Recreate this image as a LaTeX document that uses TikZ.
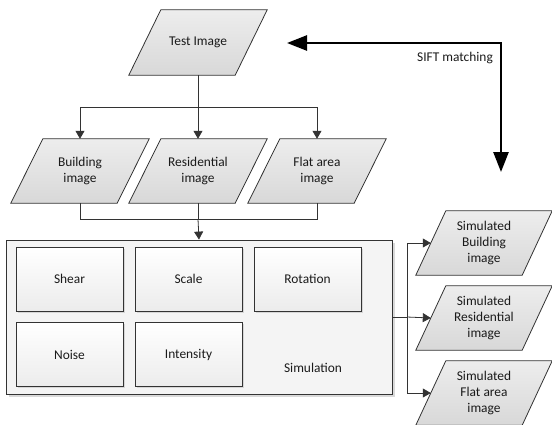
\documentclass[tikz,border=0pt]{standalone}
\usepackage{fontspec}
\setmainfont{Carlito}
\usetikzlibrary{arrows.meta,backgrounds,shadows}
\definecolor{edge}{HTML}{333333}
\definecolor{txt}{HTML}{1A1A1A}
\definecolor{ptop}{HTML}{EDEDED}
\definecolor{pbot}{HTML}{D8D8D8}
\definecolor{simfill}{HTML}{F4F4F4}
\begin{document}
\begin{tikzpicture}[x=1pt,y=-1pt,
  every node/.style={font=\fontsize{13.4}{16}\selectfont, text=txt, align=center, inner sep=0pt},
  pnode/.style={minimum width=106pt, minimum height=64pt},
  boxnode/.style={draw=edge, line width=0.8pt, minimum width=107pt, minimum height=64pt,
     top color=white, bottom color=gray!15,
     drop shadow={shadow xshift=1.5pt, shadow yshift=-1.5pt, opacity=0.25}},
  simbox/.style={draw=edge, line width=0.8pt, fill=simfill, minimum width=386pt, minimum height=154pt,
     drop shadow={shadow xshift=2.5pt, shadow yshift=-2.5pt, opacity=0.3}},
  pshape/.style={draw=edge, line width=0.8pt, top color=ptop, bottom color=pbot},
  conn/.style={draw=edge, line width=0.8pt},
  arr/.style={conn, -{Triangle[length=8pt,width=9pt]}},
  bigarr/.style={draw=black, line width=2.6pt, {Triangle[length=20pt,width=15pt]}-{Triangle[length=20pt,width=15pt]}}
]
\useasboundingbox (0,0) rectangle (552,424);
\newcommand{\pgram}[2][16]{\path[pshape] ([xshift=#1pt]#2.north west) -- ([xshift=#1pt]#2.north east) -- ([xshift=-#1pt]#2.south east) -- ([xshift=-#1pt]#2.south west) -- cycle;}

% top parallelogram
\node[pnode, minimum height=65pt] (test) at (198,42.5) {Test Image};
% second row
\node[pnode] (bld) at (80,171) {Building\\image};
\node[pnode] (res) at (198,171) {Residential\\image};
\node[pnode] (flat) at (317,171) {Flat area\\image};

% simulation block
\node[simbox] (sim) at (199,317) {};
\node[boxnode] (shear) at (69.5,279) {Shear};
\node[boxnode] (scale) at (188.5,279) {Scale};
\node[boxnode] (rot) at (307.5,279) {Rotation};
\node[boxnode] (noise) at (69.5,354.5) {Noise};
\node[boxnode] (inten) at (188.5,354.5) {Intensity};
\node (simlbl) at (313,368) {Simulation};

% simulated outputs
\node[pnode] (sb) at (484,243) {Simulated\\Building\\image};
\node[pnode] (sr) at (484,318) {Simulated\\Residential\\image};
\node[pnode] (sf) at (484,393) {Simulated\\Flat area\\image};

\begin{scope}[on background layer]
\pgram{test}
\pgram{bld}
\pgram{res}
\pgram{flat}
\pgram[15]{sb}
\pgram[15]{sr}
\pgram[15]{sf}
\end{scope}

% connectors top
\coordinate (t1) at (198,107);
\draw[conn] (test.south) -- (t1);
\draw[arr] (t1) -| (bld.north);
\draw[arr] (t1) -| (flat.north);
\draw[arr] (t1) -- (res.north);

% connectors bottom
\coordinate (b1) at (198,219);
\draw[conn] (bld.south) |- (b1);
\draw[conn] (flat.south) |- (b1);
\draw[conn] (res.south) -- (b1);
\draw[arr] (b1) -- (sim.north);

% outputs
\coordinate (bus) at (407,317);
\draw[conn] (sim.east) -- (bus);
\draw[arr] (bus) |- (sb.west);
\draw[arr] (bus) -- (sr.west);
\draw[arr] (bus) |- (sf.west);

% SIFT matching
\coordinate (s1) at (287,43);
\coordinate (s2) at (501,172);
\draw[bigarr] (s1) -| (s2);
\node (siftlbl) at (455,58) {SIFT matching};
\end{tikzpicture}
\end{document}
